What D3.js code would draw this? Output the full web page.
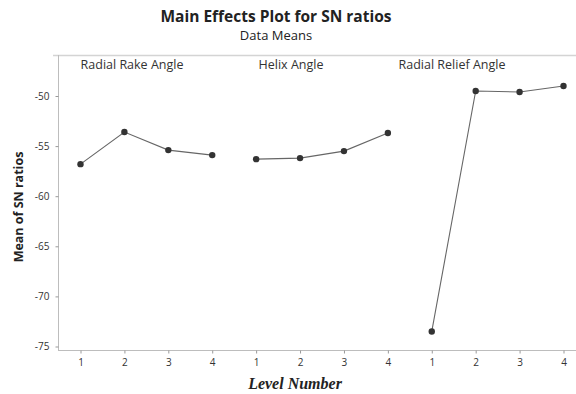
<!DOCTYPE html>
<html><head><meta charset="utf-8">
<script src="https://cdn.jsdelivr.net/npm/d3@7"></script>
<style>body{margin:0;background:#fff}svg{display:block}</style>
</head><body>
<script>
const factors = ["Radial Rake Angle", "Helix Angle", "Radial Relief Angle"];
const levels = ["1", "2", "3", "4"];
const radialRake = [-56.8, -53.6, -55.4, -55.9];
const helix = [-56.3, -56.2, -55.5, -53.7];
const radialRelief = [-73.5, -49.5, -49.6, -49.0];
const yTicks = [-50, -55, -60, -65, -70, -75];
const seriesValues = [radialRake, helix, radialRelief];

const W = 576, H = 394;
const svg = d3.select("body").append("svg").attr("width", W).attr("height", H);
const font = "'Open Sans', sans-serif";

const keys = [];
factors.forEach((f, i) => levels.forEach(l => keys.push(i + "-" + l)));
const x = d3.scalePoint().domain(keys).range([80.5, 563.5]);
const y = d3.scaleLinear().domain([-50, -75]).range([96, 346.5]);

// frame lines
svg.append("line").attr("x1", 53).attr("x2", W).attr("y1", 55.5).attr("y2", 55.5)
  .attr("stroke", "#d4d4d4").attr("stroke-width", 1.5);

// y axis
const yAxis = svg.append("g").attr("transform", "translate(58.5,0)")
  .call(d3.axisLeft(y).tickValues(yTicks).tickSize(3).tickFormat(d => String(d)));
yAxis.select(".domain").attr("d", `M0,${55}V${351}`).attr("stroke", "#bdbdbd");
yAxis.selectAll(".tick line").attr("stroke", "#999");
yAxis.selectAll("text").attr("font-family", font).attr("font-size", 10).attr("fill", "#333").attr("x", -9);

// x axis
const xAxis = svg.append("g").attr("transform", "translate(0,350.5)")
  .call(d3.axisBottom(x).tickSize(3).tickFormat(k => k.split("-")[1]));
xAxis.select(".domain").attr("d", `M58,0H${W}`).attr("stroke", "#bdbdbd");
xAxis.selectAll(".tick line").attr("stroke", "#999");
xAxis.selectAll("text").attr("font-family", font).attr("font-size", 10).attr("fill", "#333").attr("y", 8);

// panel labels
const labelX = [132, 291, 452];
factors.forEach((f, i) => {
  svg.append("text").attr("x", labelX[i]).attr("y", 68.5).attr("text-anchor", "middle")
    .attr("font-family", font).attr("font-size", 12.5).attr("fill", "#333").text(f);
});

// lines + points
const line = d3.line().x(d => x(d.k)).y(d => y(d.v));
seriesValues.forEach((vals, i) => {
  const pts = vals.map((v, j) => ({k: i + "-" + levels[j], v}));
  svg.append("path").datum(pts).attr("d", line).attr("fill", "none")
    .attr("stroke", "#666").attr("stroke-width", 1.1);
  svg.selectAll(null).data(pts).enter().append("circle")
    .attr("cx", d => x(d.k)).attr("cy", d => y(d.v)).attr("r", 3.2).attr("fill", "#333");
});

// titles
svg.append("text").attr("x", 276).attr("y", 22).attr("text-anchor", "middle")
  .attr("font-family", font).attr("font-size", 15.5).attr("font-weight", "bold").attr("fill", "#222")
  .text("Main Effects Plot for SN ratios");
svg.append("text").attr("x", 276).attr("y", 40).attr("text-anchor", "middle")
  .attr("font-family", font).attr("font-size", 13).attr("fill", "#222").text("Data Means");
svg.append("text").attr("transform", "translate(23,207) rotate(-90)").attr("text-anchor", "middle")
  .attr("font-family", font).attr("font-size", 12.5).attr("font-weight", "bold").attr("fill", "#222")
  .text("Mean of SN ratios");
svg.append("text").attr("x", 295).attr("y", 389).attr("text-anchor", "middle")
  .attr("font-family", "'Liberation Serif', serif").attr("font-size", 16).attr("font-weight", "bold")
  .attr("font-style", "italic").attr("fill", "#222").text("Level Number");
</script>
</body></html>
